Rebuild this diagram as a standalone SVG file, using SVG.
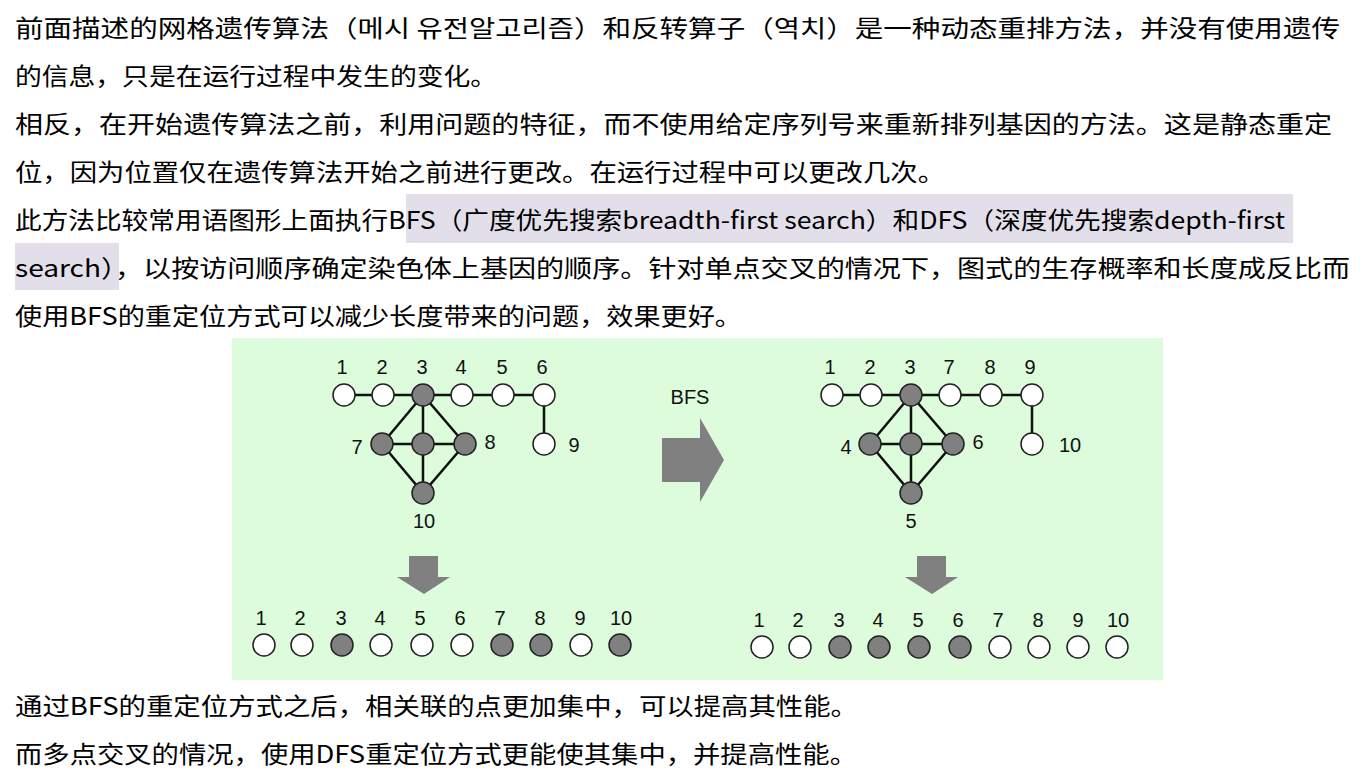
<svg xmlns="http://www.w3.org/2000/svg" width="1370" height="778" viewBox="0 0 1370 778">
<style>
.t{font-family:"Noto Sans CJK SC","Liberation Sans",sans-serif;font-size:24px;fill:#000}
.n{font-family:"Liberation Sans",Arial,sans-serif;font-size:20px;fill:#111;text-anchor:middle}
.w{fill:#fff;stroke:#222;stroke-width:1.5}
.g{fill:#808080;stroke:#222;stroke-width:1.5}
.e{stroke:#111;stroke-width:2.5;fill:none}
.ar{fill:#808080}
</style>
<rect width="1370" height="778" fill="#fff"/>
<rect x="406" y="194" width="887" height="49" fill="#e3dfea"/>
<rect x="15" y="243" width="104" height="47" fill="#e3dfea"/>
<g id="text">
<text class="t" x="15" y="37" textLength="1325" lengthAdjust="spacingAndGlyphs">前面描述的网格遗传算法（메시 유전알고리즘）和反转算子（역치）是一种动态重排方法，并没有使用遗传</text>
<text class="t" x="15" y="85" textLength="482" lengthAdjust="spacingAndGlyphs">的信息，只是在运行过程中发生的变化。</text>
<text class="t" x="15" y="133" textLength="1317" lengthAdjust="spacingAndGlyphs">相反，在开始遗传算法之前，利用问题的特征，而不使用给定序列号来重新排列基因的方法。这是静态重定</text>
<text class="t" x="15" y="181" textLength="930" lengthAdjust="spacingAndGlyphs">位，因为位置仅在遗传算法开始之前进行更改。在运行过程中可以更改几次。</text>
<text class="t" x="15" y="229" textLength="1270" lengthAdjust="spacingAndGlyphs">此方法比较常用语图形上面执行BFS（广度优先搜索breadth-first search）和DFS（深度优先搜索depth-first</text>
<text class="t" x="15" y="277" textLength="1335" lengthAdjust="spacingAndGlyphs">search），以按访问顺序确定染色体上基因的顺序。针对单点交叉的情况下，图式的生存概率和长度成反比而</text>
<text class="t" x="15" y="325" textLength="727" lengthAdjust="spacingAndGlyphs">使用BFS的重定位方式可以减少长度带来的问题，效果更好。</text>
<text class="t" x="15" y="715" textLength="843" lengthAdjust="spacingAndGlyphs">通过BFS的重定位方式之后，相关联的点更加集中，可以提高其性能。</text>
<text class="t" x="15" y="763" textLength="842" lengthAdjust="spacingAndGlyphs">而多点交叉的情况，使用DFS重定位方式更能使其集中，并提高性能。</text>
</g>
<rect x="232" y="338" width="931" height="342" fill="#dcfcdc"/>
<g id="connectors">
<path class="e" d="M344 395H544V444M423 395L382 444L423 493L465 444ZM423 395V493M382 444H465"/>
<path class="e" d="M832 395H1032V444M911 395L870 444L911 493L953 444ZM911 395V493M870 444H953"/>
</g>
<g id="left-graph">
<circle class="w" cx="344" cy="395" r="11"/><circle class="w" cx="383" cy="395" r="11"/><circle class="g" cx="423" cy="395" r="11"/><circle class="w" cx="462" cy="395" r="11"/><circle class="w" cx="503" cy="395" r="11"/><circle class="w" cx="544" cy="395" r="11"/>
<circle class="g" cx="382" cy="444" r="11"/><circle class="g" cx="423" cy="444" r="11"/><circle class="g" cx="465" cy="444" r="11"/><circle class="w" cx="544" cy="444" r="11"/><circle class="g" cx="423" cy="493" r="11"/>
<text class="n" x="342" y="374">1</text><text class="n" x="382" y="374">2</text><text class="n" x="422" y="374">3</text><text class="n" x="461" y="374">4</text><text class="n" x="502" y="374">5</text><text class="n" x="542" y="374">6</text>
<text class="n" x="357" y="454">7</text><text class="n" x="490" y="449">8</text><text class="n" x="574" y="452">9</text><text class="n" x="424" y="528">10</text>
</g>
<g id="right-graph">
<circle class="w" cx="832" cy="395" r="11"/><circle class="w" cx="871" cy="395" r="11"/><circle class="g" cx="911" cy="395" r="11"/><circle class="w" cx="950" cy="395" r="11"/><circle class="w" cx="991" cy="395" r="11"/><circle class="w" cx="1032" cy="395" r="11"/>
<circle class="g" cx="870" cy="444" r="11"/><circle class="g" cx="911" cy="444" r="11"/><circle class="g" cx="953" cy="444" r="11"/><circle class="w" cx="1032" cy="444" r="11"/><circle class="g" cx="911" cy="493" r="11"/>
<text class="n" x="830" y="374">1</text><text class="n" x="870" y="374">2</text><text class="n" x="910" y="374">3</text><text class="n" x="949" y="374">7</text><text class="n" x="990" y="374">8</text><text class="n" x="1030" y="374">9</text>
<text class="n" x="846" y="454">4</text><text class="n" x="978" y="449">6</text><text class="n" x="1070" y="452">10</text><text class="n" x="911" y="528">5</text>
</g>
<g id="bfs-arrow">
<text class="n" x="690" y="404">BFS</text>
<path class="ar" d="M662 438H700V418L724 460L700 502V482H662Z"/>
</g>
<g id="down-arrows">
<path class="ar" d="M409 556H438V577H450L424 594L397 577H409Z"/>
<path class="ar" d="M917 556H946V577H958L932 594L905 577H917Z"/>
</g>
<g id="left-row">
<circle class="w" cx="264" cy="645" r="11"/><circle class="w" cx="302" cy="645" r="11"/><circle class="g" cx="342" cy="645" r="11"/><circle class="w" cx="381" cy="645" r="11"/><circle class="w" cx="422" cy="645" r="11"/><circle class="w" cx="462" cy="645" r="11"/><circle class="g" cx="502" cy="645" r="11"/><circle class="g" cx="541" cy="645" r="11"/><circle class="w" cx="581" cy="645" r="11"/><circle class="g" cx="620" cy="645" r="11"/>
<text class="n" x="261" y="625">1</text><text class="n" x="300" y="625">2</text><text class="n" x="341" y="625">3</text><text class="n" x="380" y="625">4</text><text class="n" x="420" y="625">5</text><text class="n" x="460" y="625">6</text><text class="n" x="500" y="625">7</text><text class="n" x="540" y="625">8</text><text class="n" x="580" y="625">9</text><text class="n" x="621" y="625">10</text>
</g>
<g id="right-row">
<circle class="w" cx="762" cy="647" r="11"/><circle class="w" cx="800" cy="647" r="11"/><circle class="g" cx="840" cy="647" r="11"/><circle class="g" cx="879" cy="647" r="11"/><circle class="g" cx="919" cy="647" r="11"/><circle class="g" cx="960" cy="647" r="11"/><circle class="w" cx="1000" cy="647" r="11"/><circle class="w" cx="1039" cy="647" r="11"/><circle class="w" cx="1078" cy="647" r="11"/><circle class="w" cx="1117" cy="647" r="11"/>
<text class="n" x="759" y="627">1</text><text class="n" x="798" y="627">2</text><text class="n" x="839" y="627">3</text><text class="n" x="878" y="627">4</text><text class="n" x="918" y="627">5</text><text class="n" x="958" y="627">6</text><text class="n" x="998" y="627">7</text><text class="n" x="1038" y="627">8</text><text class="n" x="1078" y="627">9</text><text class="n" x="1118" y="627">10</text>
</g>
</svg>
